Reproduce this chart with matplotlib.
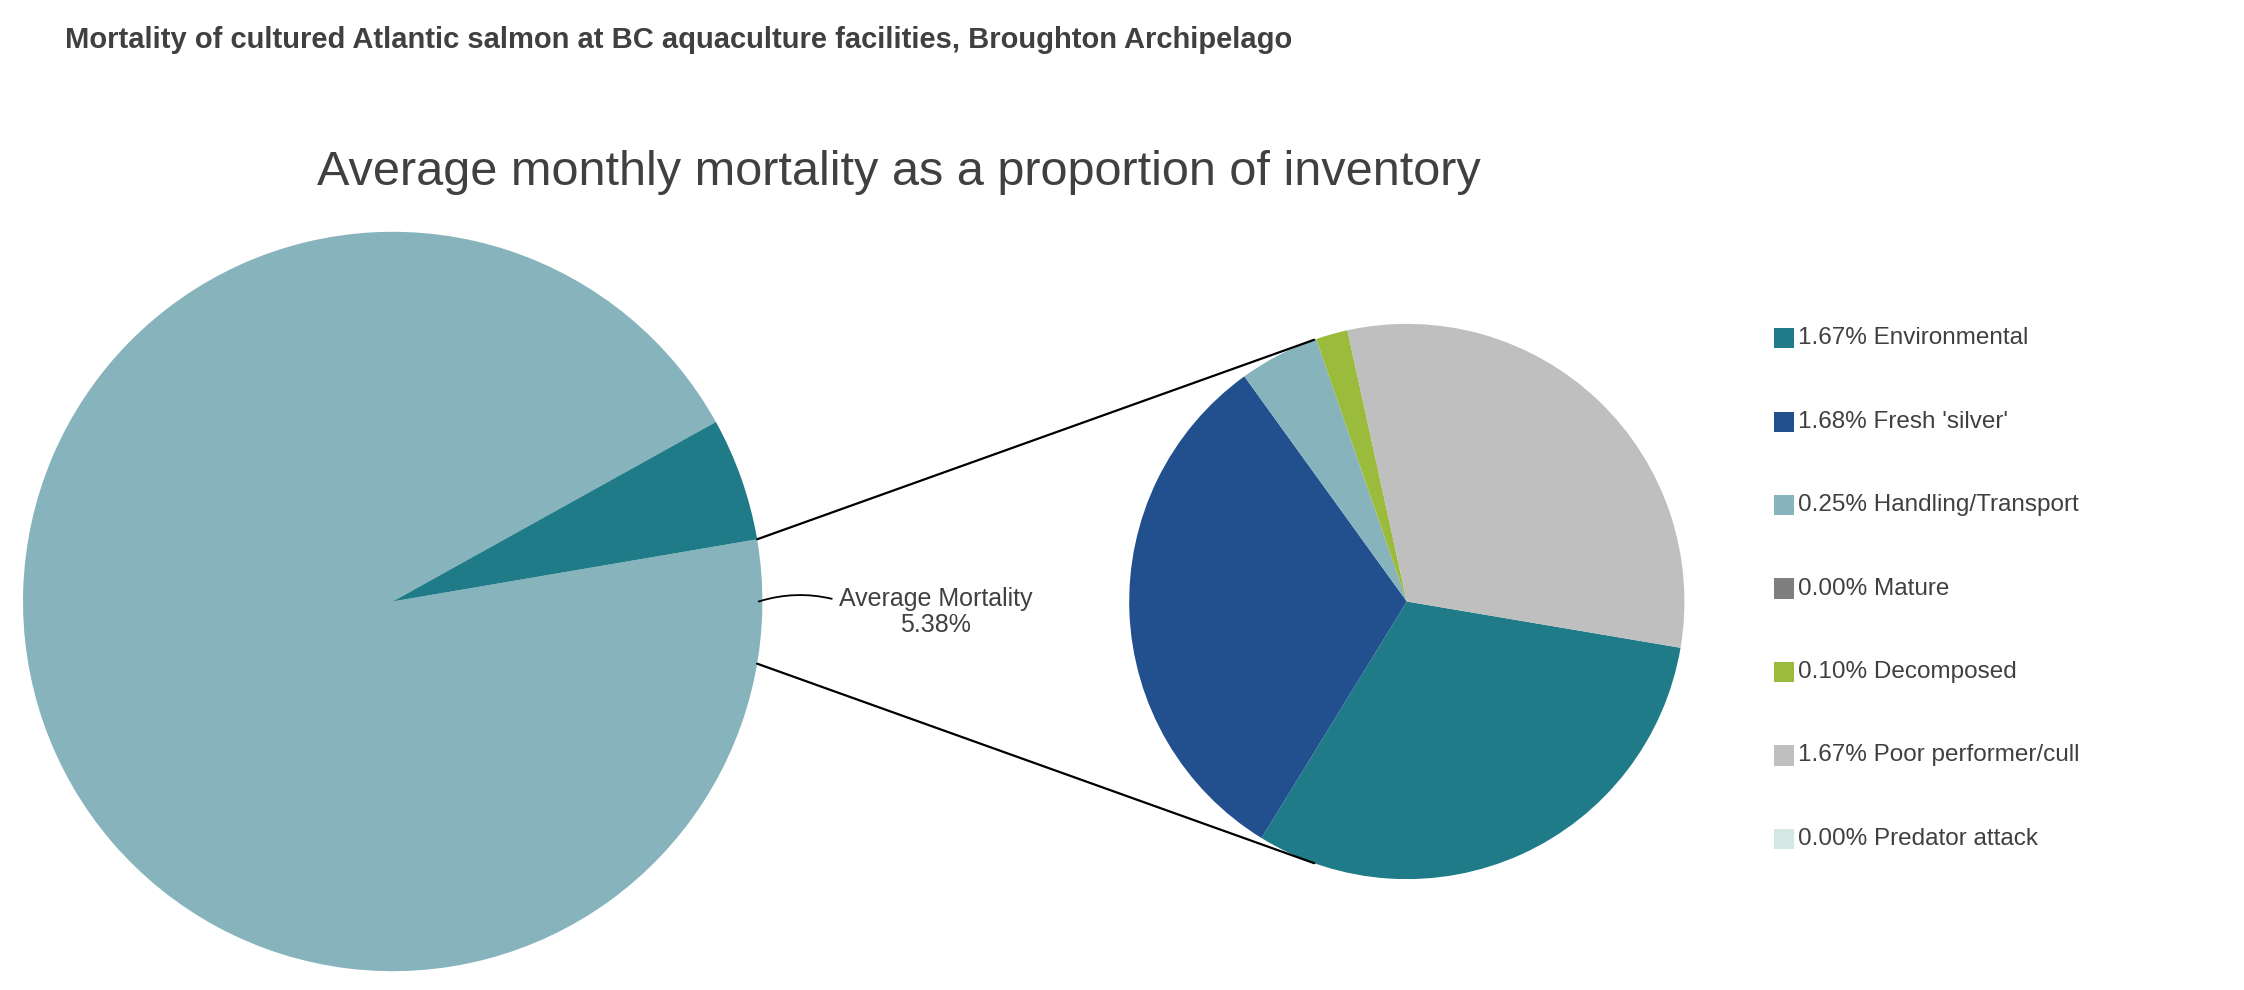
import matplotlib
matplotlib.use("Agg")
import matplotlib.pyplot as plt
import numpy as np
from matplotlib.patches import ConnectionPatch, Rectangle

plt.rcParams['font.family'] = ['Liberation Sans', 'DejaVu Sans']

total_mortality = 5.38
categories = ["Environmental", "Fresh 'silver'", "Handling/Transport", "Mature",
              "Decomposed", "Poor performer/cull", "Predator attack"]
values = [1.67, 1.68, 0.25, 0.00, 0.10, 1.67, 0.00]
colors = ["#1F7B87", "#22508F", "#86B3BC", "#7F7F7F", "#9BBB3C", "#BFBFBF", "#D5E6E3"]

# layout is worked out in a 1560x688 reference grid, then scaled to fractions
W, H = 1560.0, 688.0


def box(cx, cy, r):
    return [(cx - r) / W, 1 - (cy + r) / H, 2 * r / W, 2 * r / H]


fig = plt.figure(figsize=(22.44, 9.9), dpi=100)

fig.text(45 / W, 1 - 28 / H, "Mortality of cultured Atlantic salmon at BC aquaculture facilities, Broughton Archipelago",
         fontsize=21, fontweight="bold", color="#404040", va="center", ha="left")
fig.text(625 / W, 1 - 120 / H, "Average monthly mortality as a proportion of inventory",
         fontsize=35, color="#404040", va="center", ha="center")

# main pie
ax1 = fig.add_axes(box(273, 418, 257))
half = total_mortality / 100 * 360 / 2
ax1.pie([100 - total_mortality, total_mortality], colors=["#86B3BC", "#1F7B87"],
        startangle=half, counterclock=False, radius=1)
ax1.set_xlim(-1, 1)
ax1.set_ylim(-1, 1)
ax1.set_aspect("equal")

# breakdown pie
ax2 = fig.add_axes(box(978, 418, 193))
ax2.pie(values, colors=colors, startangle=-9.6, counterclock=False, radius=1)
ax2.set_xlim(-1, 1)
ax2.set_ylim(-1, 1)
ax2.set_aspect("equal")

for sgn in (1, -1):
    a1 = np.deg2rad(sgn * half)
    a2 = np.deg2rad(sgn * 109.5)
    con = ConnectionPatch(xyA=(np.cos(a1), np.sin(a1)), coordsA=ax1.transData,
                          xyB=(np.cos(a2), np.sin(a2)), coordsB=ax2.transData,
                          color="black", lw=1.6)
    fig.add_artist(con)

# data label with leader
ax1.annotate("Average Mortality\n%.2f%%" % total_mortality, xy=(0.99, 0.0),
             xytext=(583 / W, 1 - 425 / H), textcoords="figure fraction",
             fontsize=18, color="#404040", ha="left", va="center",
             multialignment="center", linespacing=1.1,
             arrowprops=dict(arrowstyle="-", color="black", lw=1.3,
                             connectionstyle="arc3,rad=0.15",
                             shrinkA=3, shrinkB=0, relpos=(0, 0.72)))

# legend
for i, (name, v, c) in enumerate(zip(categories, values, colors)):
    y = 235 + i * 58.0
    fig.add_artist(Rectangle(((1240 - 7) / W, 1 - (y + 7) / H), 14 / W, 14 / H,
                             transform=fig.transFigure, color=c, lw=0))
    fig.text(1250 / W, 1 - y / H, "%.2f%% %s" % (v, name), fontsize=17.5,
             color="#404040", va="center", ha="left")

fig.savefig("out.png", dpi=100)
